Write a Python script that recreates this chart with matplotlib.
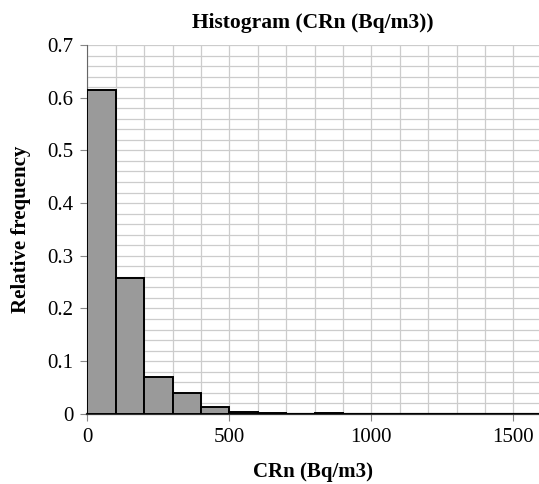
import matplotlib.pyplot as plt
import numpy as np

# Histogram data (bin left edges in Bq/m3, relative frequency)
bin_left = [0, 100, 200, 300, 400, 500, 600, 700, 800, 900, 1000, 1100, 1200, 1300, 1400, 1500]
rel_freq = [0.615, 0.258, 0.070, 0.040, 0.012, 0.004, 0.002, 0.0, 0.002, 0.0005, 0.0005, 0.0005, 0.0005, 0.0005, 0.0005, 0.0005]
bin_width = 100
xticks = [0, 500, 1000, 1500]
yticks = [0, 0.1, 0.2, 0.3, 0.4, 0.5, 0.6, 0.7]

plt.rcParams['font.family'] = ['Liberation Serif', 'DejaVu Serif']

fig = plt.figure(figsize=(5.39, 4.84), dpi=100)
ax = fig.add_axes([0.162, 0.145, 0.838, 0.762])

ax.bar(bin_left, rel_freq, width=bin_width, align='edge',
       color='#9a9a9a', edgecolor='black', linewidth=1.4, zorder=3)

ax.set_xlim(0, 1590)
ax.set_ylim(0, 0.7)
ax.set_xticks(xticks)
ax.set_yticks(yticks)
ax.set_yticklabels(['0', '0.1', '0.2', '0.3', '0.4', '0.5', '0.6', '0.7'])
ax.set_xticks(np.arange(0, 1600, 100), minor=True)
ax.set_yticks(np.arange(0, 0.7, 0.02), minor=True)
ax.grid(True, which='both', color='#cccccc', linewidth=0.9, zorder=0)
ax.set_axisbelow(True)

for s in ['top', 'right']:
    ax.spines[s].set_visible(False)
ax.spines['left'].set_color('#666666')
ax.spines['bottom'].set_color('#333333')
ax.spines['bottom'].set_linewidth(1.6)
ax.tick_params(axis='both', which='major', labelsize=15, length=5, color='#888888', direction='out', pad=5)
ax.tick_params(axis='both', which='minor', length=0)

ax.set_title('Histogram (CRn (Bq/m3))', fontsize=15.5, fontweight='bold', pad=12)
ax.set_xlabel('CRn (Bq/m3)', fontsize=15, fontweight='bold', labelpad=11)
ax.set_ylabel('Relative frequency', fontsize=15, fontweight='bold', labelpad=12)

fig.savefig('out.png', dpi=100)
